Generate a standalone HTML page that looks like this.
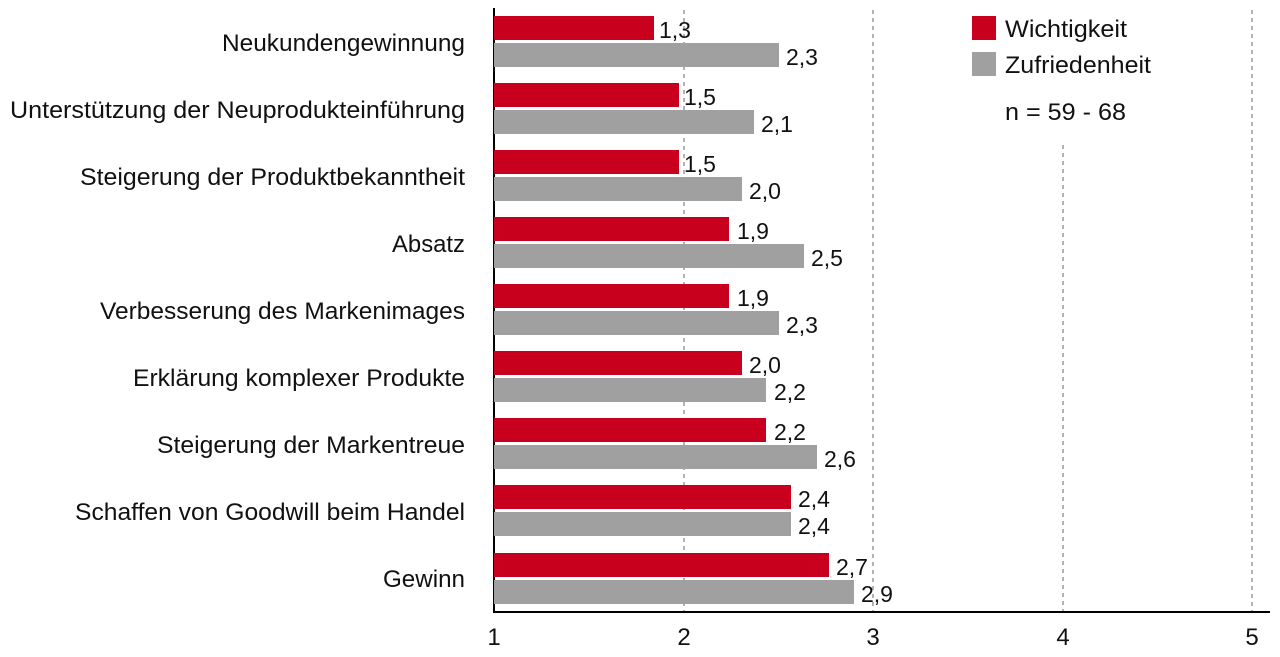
<!DOCTYPE html>
<html><head><meta charset="utf-8"><style>
html,body{margin:0;padding:0;background:#fff;}
svg{display:block;font-family:"Liberation Sans",sans-serif;}
</style></head><body>
<svg width="1280" height="657" viewBox="0 0 1280 657">
<g stroke="#999" stroke-width="1.5" stroke-dasharray="4,4">
<line x1="684" y1="10" x2="684" y2="612"/>
<line x1="873" y1="10" x2="873" y2="612"/>
<line x1="1063" y1="145" x2="1063" y2="612"/>
<line x1="1252" y1="10" x2="1252" y2="612"/>
</g>
<line x1="494" y1="8" x2="494" y2="613" stroke="#000" stroke-width="2"/>
<line x1="493" y1="612" x2="1270" y2="612" stroke="#000" stroke-width="2"/>
<g font-size="24" fill="#111" text-anchor="middle">
<text x="494" y="645">1</text><text x="684" y="645">2</text><text x="873" y="645">3</text><text x="1063" y="645">4</text><text x="1252" y="645">5</text>
</g>
<rect x="972" y="16" width="24" height="24" fill="#c8001e"/>
<rect x="972" y="52" width="24" height="24" fill="#a0a0a0"/>
<g font-size="24" fill="#111">
<text x="1005" y="37" textLength="122" lengthAdjust="spacingAndGlyphs">Wichtigkeit</text>
<text x="1005" y="73" textLength="146" lengthAdjust="spacingAndGlyphs">Zufriedenheit</text>
<text x="1005" y="120" textLength="121" lengthAdjust="spacingAndGlyphs">n = 59 - 68</text>
</g>
<g font-size="24" fill="#111">
<text x="222" y="51" textLength="243" lengthAdjust="spacingAndGlyphs">Neukundengewinnung</text>
<text x="10" y="118" textLength="455" lengthAdjust="spacingAndGlyphs">Unterstützung der Neuprodukteinführung</text>
<text x="80" y="185" textLength="385" lengthAdjust="spacingAndGlyphs">Steigerung der Produktbekanntheit</text>
<text x="392" y="252" textLength="73" lengthAdjust="spacingAndGlyphs">Absatz</text>
<text x="100" y="319" textLength="365" lengthAdjust="spacingAndGlyphs">Verbesserung des Markenimages</text>
<text x="133" y="386" textLength="332" lengthAdjust="spacingAndGlyphs">Erklärung komplexer Produkte</text>
<text x="157" y="453" textLength="308" lengthAdjust="spacingAndGlyphs">Steigerung der Markentreue</text>
<text x="75" y="520" textLength="390" lengthAdjust="spacingAndGlyphs">Schaffen von Goodwill beim Handel</text>
<text x="383" y="587" textLength="82" lengthAdjust="spacingAndGlyphs">Gewinn</text>
</g>
<g font-size="23" fill="#111">
<rect x="494" y="16" width="160" height="24" fill="#c8001e"/><text x="659" y="38">1,3</text>
<rect x="494" y="43" width="285" height="24" fill="#a0a0a0"/><text x="786" y="65">2,3</text>
<rect x="494" y="83" width="185" height="24" fill="#c8001e"/><text x="684" y="105">1,5</text>
<rect x="494" y="110" width="260" height="24" fill="#a0a0a0"/><text x="761" y="132">2,1</text>
<rect x="494" y="150" width="185" height="24" fill="#c8001e"/><text x="684" y="172">1,5</text>
<rect x="494" y="177" width="248" height="24" fill="#a0a0a0"/><text x="749" y="199">2,0</text>
<rect x="494" y="217" width="235" height="24" fill="#c8001e"/><text x="737" y="239">1,9</text>
<rect x="494" y="244" width="310" height="24" fill="#a0a0a0"/><text x="811" y="266">2,5</text>
<rect x="494" y="284" width="235" height="24" fill="#c8001e"/><text x="737" y="306">1,9</text>
<rect x="494" y="311" width="285" height="24" fill="#a0a0a0"/><text x="786" y="333">2,3</text>
<rect x="494" y="351" width="248" height="24" fill="#c8001e"/><text x="749" y="373">2,0</text>
<rect x="494" y="378" width="272" height="24" fill="#a0a0a0"/><text x="774" y="400">2,2</text>
<rect x="494" y="418" width="272" height="24" fill="#c8001e"/><text x="774" y="440">2,2</text>
<rect x="494" y="445" width="323" height="24" fill="#a0a0a0"/><text x="824" y="467">2,6</text>
<rect x="494" y="485" width="297" height="24" fill="#c8001e"/><text x="798" y="507">2,4</text>
<rect x="494" y="512" width="297" height="24" fill="#a0a0a0"/><text x="798" y="534">2,4</text>
<rect x="494" y="553" width="335" height="24" fill="#c8001e"/><text x="836" y="575">2,7</text>
<rect x="494" y="580" width="360" height="24" fill="#a0a0a0"/><text x="861" y="602">2,9</text>
</g>
</svg>
</body></html>
